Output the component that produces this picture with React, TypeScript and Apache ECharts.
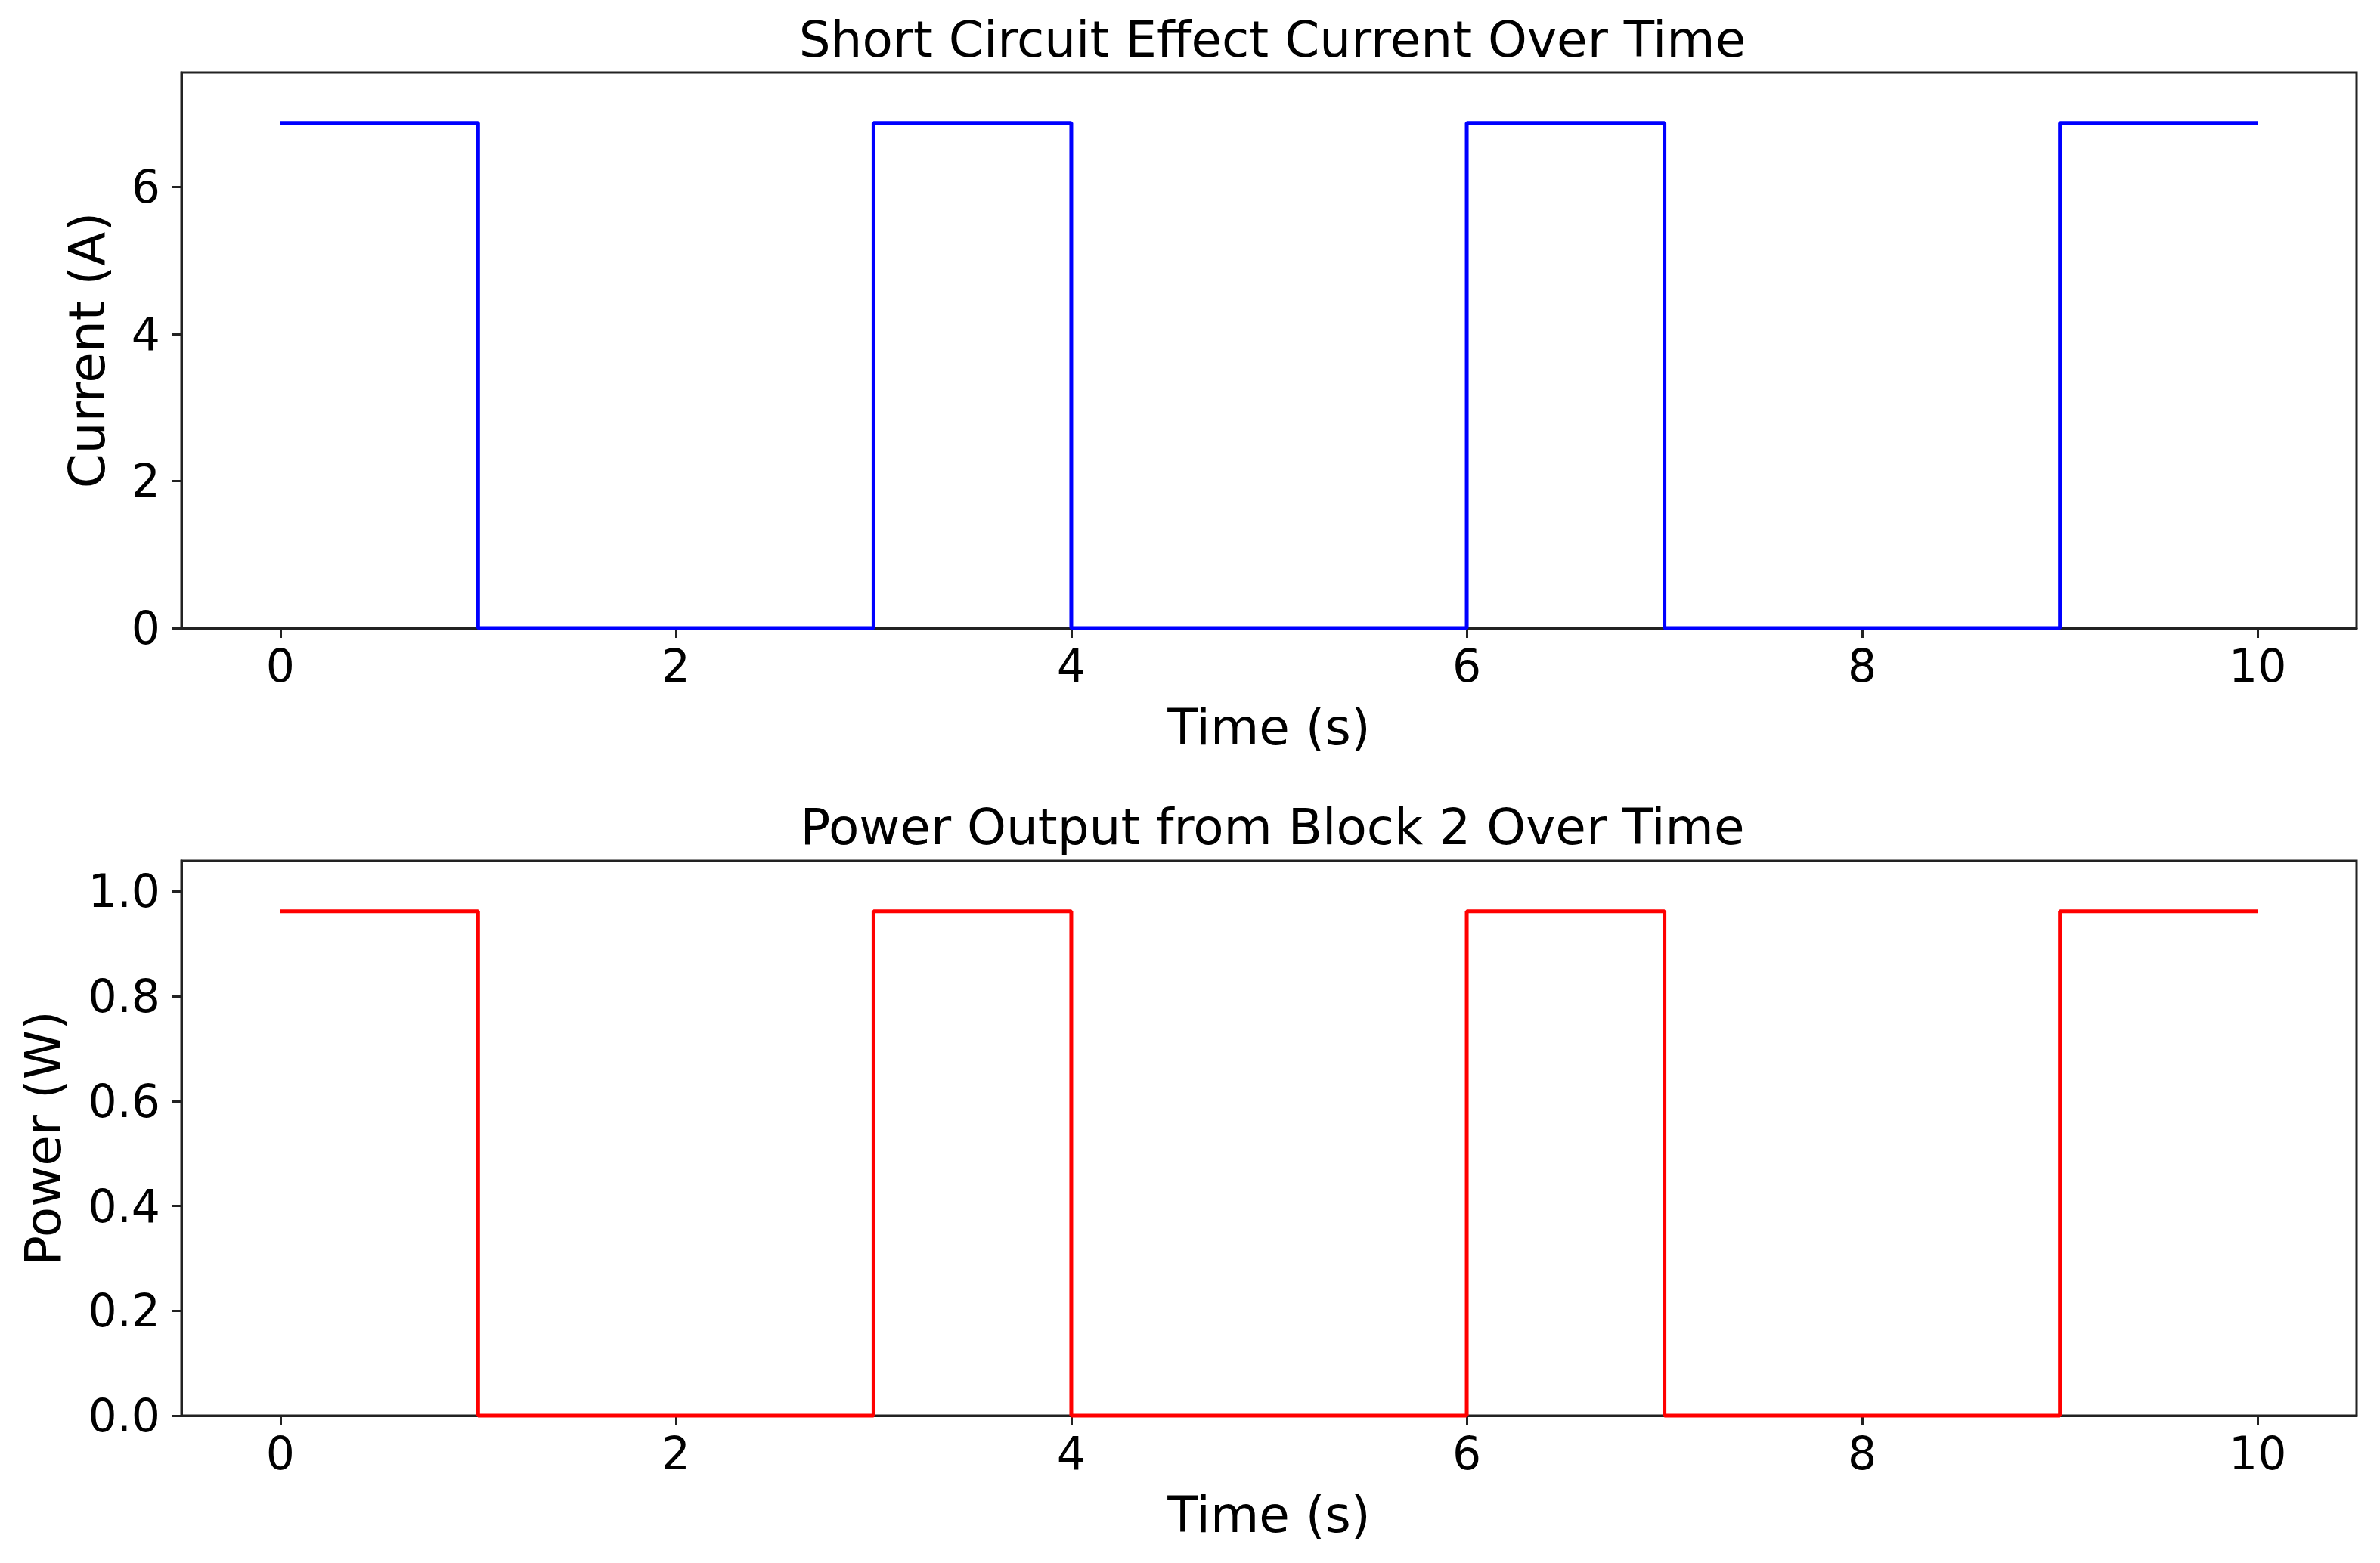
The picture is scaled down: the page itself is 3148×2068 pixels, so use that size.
import React, { useEffect, useRef } from "react";
import * as echarts from "echarts";

const times = [0, 1, 3, 4, 6, 7, 9, 10];
const currentValues = [6.87, 0, 6.87, 0, 6.87, 0, 6.87, 6.87];
const powerValues = [0.962, 0, 0.962, 0, 0.962, 0, 0.962, 0.962];
const xTicks = [0, 2, 4, 6, 8, 10];
const currentTicks = [0, 2, 4, 6];
const powerTicks = [0, 0.2, 0.4, 0.6, 0.8, 1.0];

const FONT = "DejaVu Sans";

export default function App() {
  const ref = useRef<HTMLDivElement>(null);
  useEffect(() => {
    if (!ref.current) return;
    const chart = echarts.init(ref.current, null, { renderer: "svg" });
    const axisLineStyle = { color: "#222", width: 3 };
    const mkX = (gridIndex: number) => ({
      type: "value",
      gridIndex,
      min: -0.5,
      max: 10.5,
      name: "Time (s)",
      nameLocation: "middle",
      nameGap: 98,
      nameTextStyle: { fontFamily: FONT, fontSize: 66, color: "#000" },
      axisLine: { show: true, onZero: false, lineStyle: axisLineStyle },
      axisTick: { show: true, length: 13, lineStyle: { color: "#222", width: 3 }, customValues: xTicks },
      axisLabel: { show: true, customValues: xTicks, fontFamily: FONT, fontSize: 60, color: "#000", margin: 20 },
      splitLine: { show: false },
    });
    const mkY = (gridIndex: number, max: number, ticks: number[], name: string, gap: number, fmt: (v: number) => string) => ({
      type: "value",
      gridIndex,
      min: 0,
      max,
      name,
      nameLocation: "middle",
      nameGap: gap,
      nameTextStyle: { fontFamily: FONT, fontSize: 66, color: "#000" },
      axisLine: { show: true, onZero: false, lineStyle: axisLineStyle },
      axisTick: { show: true, length: 13, lineStyle: { color: "#222", width: 3 }, customValues: ticks },
      axisLabel: { show: true, customValues: ticks, formatter: fmt, fontFamily: FONT, fontSize: 60, color: "#000", margin: 28 },
      splitLine: { show: false },
    });
    chart.setOption({
      animation: false,
      backgroundColor: "#fff",
      title: [
        {
          text: "Short Circuit Effect Current Over Time",
          left: 1678,
          top: 14,
          textAlign: "center",
          textStyle: { fontFamily: FONT, fontSize: 66, fontWeight: "normal", color: "#000" },
        },
        {
          text: "Power Output from Block 2 Over Time",
          left: 1678,
          top: 1056,
          textAlign: "center",
          textStyle: { fontFamily: FONT, fontSize: 66, fontWeight: "normal", color: "#000" },
        },
      ],
      grid: [
        { left: 240, right: 31, top: 96, height: 735, show: true, borderColor: "#222", borderWidth: 3, backgroundColor: "transparent" },
        { left: 240, right: 31, top: 1139, height: 734, show: true, borderColor: "#222", borderWidth: 3, backgroundColor: "transparent" },
      ],
      xAxis: [mkX(0), mkX(1)],
      yAxis: [
        mkY(0, 6.87 * 1.1, currentTicks, "Current (A)", 92, (v: number) => String(v)),
        mkY(1, 0.962 * 1.1, powerTicks, "Power (W)", 150, (v: number) => v.toFixed(1)),
      ],
      series: [
        {
          type: "line",
          xAxisIndex: 0,
          yAxisIndex: 0,
          step: "end",
          showSymbol: false,
          data: times.map((t, i) => [t, currentValues[i]]),
          lineStyle: { color: "#0000ff", width: 5 },
          itemStyle: { color: "#0000ff" },
          clip: false,
        },
        {
          type: "line",
          xAxisIndex: 1,
          yAxisIndex: 1,
          step: "end",
          showSymbol: false,
          data: times.map((t, i) => [t, powerValues[i]]),
          lineStyle: { color: "#ff0000", width: 5 },
          itemStyle: { color: "#ff0000" },
          clip: false,
        },
      ],
    });
    return () => chart.dispose();
  }, []);
  return (
    <div
      ref={ref}
      style={{ position: "absolute", left: 0, top: 0, width: 3148, height: 2068 }}
    />
  );
}
